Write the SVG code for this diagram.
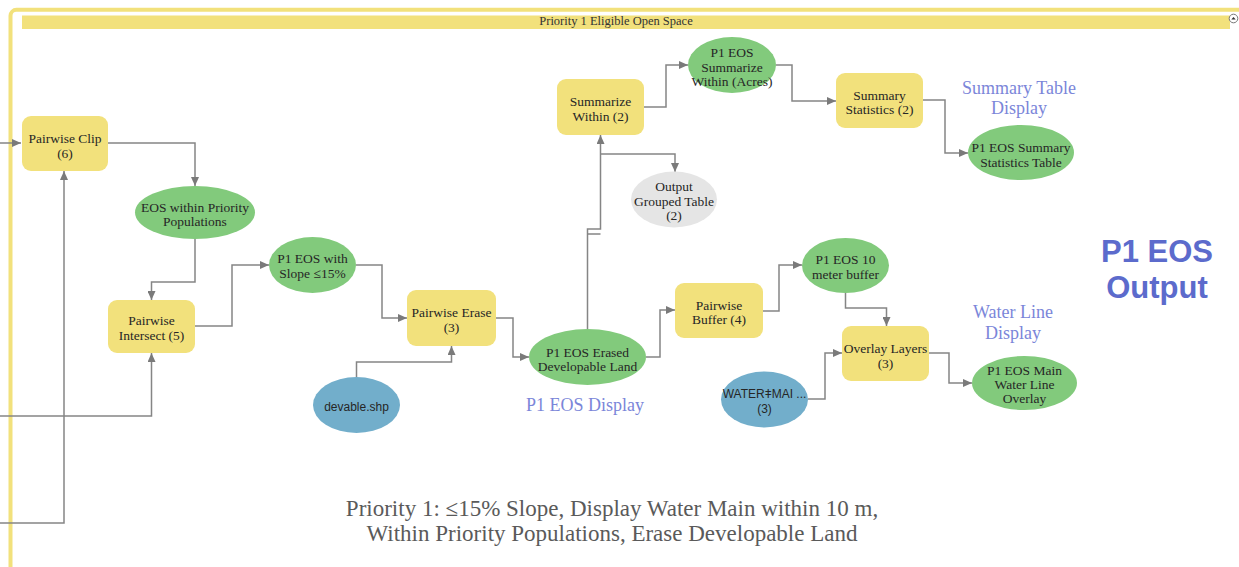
<svg xmlns="http://www.w3.org/2000/svg" width="1239" height="567" viewBox="0 0 1239 567">
<style>
.proc{fill:#F2E17C}
.data{fill:#82CA7C}
.input{fill:#72AECB}
.grey{fill:#E5E5E5}
.t{font-family:"Liberation Serif","DejaVu Serif",serif;font-size:13.5px;fill:#262626;text-anchor:middle}
.ts{font-family:"Liberation Sans","DejaVu Sans",sans-serif;font-size:12px;fill:#262626;text-anchor:middle}
.lbl{font-family:"Liberation Serif","DejaVu Serif",serif;font-size:18px;fill:#7B86D9;text-anchor:middle}
.big{font-family:"Liberation Sans","DejaVu Sans",sans-serif;font-size:31px;font-weight:bold;fill:#5C6BCC;text-anchor:middle}
.cap{font-family:"Liberation Serif","DejaVu Serif",serif;font-size:23px;fill:#5a5a5a;text-anchor:middle}
.c{fill:none;stroke:#858585;stroke-width:1.5}
</style>
<defs>
<marker id="ah" markerUnits="userSpaceOnUse" markerWidth="9" markerHeight="8" refX="9" refY="4" orient="auto">
<path d="M0,0 L9,4 L0,8 z" fill="#7a7a7a"/>
</marker>
<clipPath id="barclip"><rect x="22" y="15.5" width="1208" height="13.5"/></clipPath>
</defs>
<rect width="1239" height="567" fill="#ffffff"/>
<g id="frame">
<rect x="10.5" y="9.8" width="1300" height="700" rx="6" fill="none" stroke="#F2E17C" stroke-width="4"/>
<rect x="22" y="15.5" width="1208" height="13.5" fill="#F2E17C"/>
<text x="616" y="25" clip-path="url(#barclip)" style="font-family:'Liberation Serif','DejaVu Serif',serif;font-size:12.5px;fill:#333;text-anchor:middle">Priority 1 Eligible Open Space</text>
<circle cx="1233.5" cy="18.5" r="4.3" fill="#ffffff" stroke="#777" stroke-width="1"/>
<path d="M1231.3,19.6 L1233.5,16.9 L1235.7,19.6 z" fill="#333"/>
</g>
<g id="connectors">
<path class="c" d="M0,143 H21" marker-end="url(#ah)"/>
<path class="c" d="M108,143 H195 V186" marker-end="url(#ah)"/>
<path class="c" d="M0,523 H64 V171" marker-end="url(#ah)"/>
<path class="c" d="M0,416 H151.5 V353" marker-end="url(#ah)"/>
<path class="c" d="M195,239 V282 H151.5 V300" marker-end="url(#ah)"/>
<path class="c" d="M195,326 H232 V265 H269" marker-end="url(#ah)"/>
<path class="c" d="M356,265 H382 V318 H407" marker-end="url(#ah)"/>
<path class="c" d="M356.5,377 V362 H451.5 V346" marker-end="url(#ah)"/>
<path class="c" d="M496,318 H513 V357 H529" marker-end="url(#ah)"/>
<path class="c" d="M587.5,329 V229 H600.5 V135" marker-end="url(#ah)"/>
<path class="c" d="M587.5,234 H600.5"/>
<path class="c" d="M600.5,154 H675 V172" marker-end="url(#ah)"/>
<path class="c" d="M644,107 H666 V65 H688" marker-end="url(#ah)"/>
<path class="c" d="M776,65 H792 V101 H836" marker-end="url(#ah)"/>
<path class="c" d="M923,100 H945 V153 H968" marker-end="url(#ah)"/>
<path class="c" d="M646,357 H660 V310 H675" marker-end="url(#ah)"/>
<path class="c" d="M763,311 H779 V265 H802" marker-end="url(#ah)"/>
<path class="c" d="M845.5,293 V308 H886.5 V326" marker-end="url(#ah)"/>
<path class="c" d="M808,399 H825 V353 H842" marker-end="url(#ah)"/>
<path class="c" d="M929,353 H949 V383 H972" marker-end="url(#ah)"/>
</g>
<g id="pairwise-clip"><rect class="proc" x="22" y="116" width="86" height="55" rx="9"/><text class="t" x="65" y="142.5">Pairwise Clip</text><text class="t" x="65" y="157.5">(6)</text></g>
<g id="eos-priority-pop"><ellipse class="data" cx="195" cy="212.5" rx="60" ry="26.5"/><text class="t" x="195" y="211.5">EOS within Priority</text><text class="t" x="195" y="225.5">Populations</text></g>
<g id="pairwise-intersect"><rect class="proc" x="108" y="300" width="87" height="53" rx="9"/><text class="t" x="151.5" y="324.5">Pairwise</text><text class="t" x="151.5" y="339.5">Intersect (5)</text></g>
<g id="eos-slope"><ellipse class="data" cx="312.5" cy="265" rx="43.5" ry="28"/><text class="t" x="312.5" y="262.5">P1 EOS with</text><text class="t" x="312.5" y="277.5">Slope ≤15%</text></g>
<g id="pairwise-erase"><rect class="proc" x="407" y="290" width="89" height="56" rx="9"/><text class="t" x="451.5" y="316.5">Pairwise Erase</text><text class="t" x="451.5" y="331.5">(3)</text></g>
<g id="devable"><ellipse class="input" cx="356.5" cy="405" rx="43.5" ry="28"/><text class="ts" x="356.5" y="411">devable.shp</text></g>
<g id="eos-erased"><ellipse class="data" cx="587.5" cy="357" rx="58.5" ry="28"/><text class="t" x="587.5" y="356.5">P1 EOS Erased</text><text class="t" x="587.5" y="370.5">Developable Land</text></g>
<g id="label-eos-display"><text class="lbl" x="585" y="411">P1 EOS Display</text></g>
<g id="pairwise-buffer"><rect class="proc" x="675" y="283" width="88" height="55" rx="9"/><text class="t" x="719" y="309.5">Pairwise</text><text class="t" x="719" y="323.5">Buffer (4)</text></g>
<g id="water-main"><ellipse class="input" cx="764.5" cy="399.5" rx="43.5" ry="28"/><text class="ts" x="764.5" y="397.5">WATERǂMAI ...</text><text class="ts" x="764.5" y="412.5">(3)</text></g>
<g id="eos-10m-buffer"><ellipse class="data" cx="845.5" cy="265.5" rx="43.5" ry="27.5"/><text class="t" x="845.5" y="263.5">P1 EOS 10</text><text class="t" x="845.5" y="278.5">meter buffer</text></g>
<g id="overlay-layers"><rect class="proc" x="842" y="326" width="87" height="55" rx="9"/><text class="t" x="885.5" y="352.5">Overlay Layers</text><text class="t" x="885.5" y="367.5">(3)</text></g>
<g id="eos-main-water"><ellipse class="data" cx="1024.5" cy="383" rx="52.5" ry="27"/><text class="t" x="1024.5" y="374.5">P1 EOS Main</text><text class="t" x="1024.5" y="388.5">Water Line</text><text class="t" x="1024.5" y="403">Overlay</text></g>
<g id="label-water-line"><text class="lbl" x="1013" y="318">Water Line</text><text class="lbl" x="1013" y="339">Display</text></g>
<g id="label-output"><text class="big" x="1157" y="262">P1 EOS</text><text class="big" x="1157" y="298">Output</text></g>
<g id="summarize-within"><rect class="proc" x="557" y="79" width="87" height="56" rx="9"/><text class="t" x="600.5" y="105.5">Summarize</text><text class="t" x="600.5" y="120.5">Within (2)</text></g>
<g id="eos-sum-acres"><ellipse class="data" cx="732" cy="65" rx="44" ry="28"/><text class="t" x="732" y="56.5">P1 EOS</text><text class="t" x="732" y="71.5">Summarize</text><text class="t" x="732" y="85.5">Within (Acres)</text></g>
<g id="output-grouped"><ellipse class="grey" cx="674" cy="199.5" rx="43" ry="28"/><text class="t" x="674" y="190.5">Output</text><text class="t" x="674" y="205.5">Grouped Table</text><text class="t" x="674" y="219.5">(2)</text></g>
<g id="summary-statistics"><rect class="proc" x="836" y="73" width="87" height="55" rx="9"/><text class="t" x="879.5" y="100">Summary</text><text class="t" x="879.5" y="114">Statistics (2)</text></g>
<g id="label-summary-table"><text class="lbl" x="1019" y="94">Summary Table</text><text class="lbl" x="1019" y="114">Display</text></g>
<g id="eos-summary-table"><ellipse class="data" cx="1021" cy="152.5" rx="53" ry="27.5"/><text class="t" x="1021" y="151.5">P1 EOS Summary</text><text class="t" x="1021" y="166.5">Statistics Table</text></g>
<g id="caption"><text class="cap" x="612" y="516">Priority 1: ≤15% Slope, Display Water Main within 10 m,</text><text class="cap" x="612" y="541">Within Priority Populations, Erase Developable Land</text></g>
</svg>
